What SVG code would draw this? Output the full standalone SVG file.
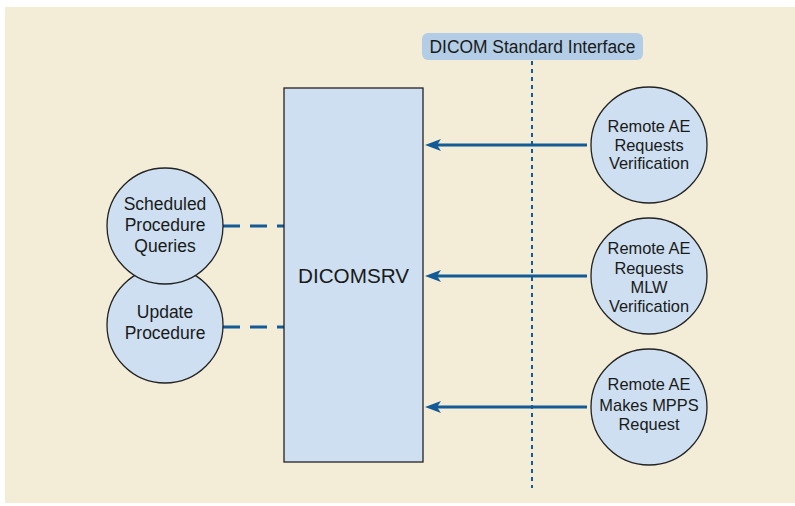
<svg xmlns="http://www.w3.org/2000/svg" width="795" height="506" viewBox="0 0 795 506">
<style>
.node{fill:#cddff0;stroke:#222;stroke-width:1.3}
.t{font-family:"Liberation Sans",Arial,sans-serif;font-size:16.4px;fill:#1a1a1a;text-anchor:middle}
.l{font-size:17.5px}
.arrow{stroke:#135b96;stroke-width:3;fill:none}
.dash{stroke:#135b96;stroke-width:3;fill:none;stroke-dasharray:17 10}
</style>
<rect x="5" y="7" width="790" height="496" fill="#f3ecd6"/>
<g id="interface">
<rect x="422" y="33" width="221" height="27" rx="6" fill="#b3cde6"/>
<text class="t l" x="532.5" y="53" textLength="206" lengthAdjust="spacingAndGlyphs">DICOM Standard Interface</text>
<line x1="532" y1="61" x2="532" y2="488" stroke="#135b96" stroke-width="2" stroke-dasharray="4 4"/>
</g>
<g id="connectors">
<line class="dash" x1="223" y1="226" x2="284" y2="226"/>
<line class="dash" x1="223" y1="327" x2="284" y2="327"/>
<line class="arrow" x1="587" y1="145" x2="437" y2="145"/>
<path d="M425,145 L441,139 L437,145 L441,151 Z" fill="#135b96"/>
<line class="arrow" x1="587" y1="276" x2="437" y2="276"/>
<path d="M425,276 L441,270 L437,276 L441,282 Z" fill="#135b96"/>
<line class="arrow" x1="587" y1="407" x2="437" y2="407"/>
<path d="M425,407 L441,401 L437,407 L441,413 Z" fill="#135b96"/>
</g>
<g id="dicomsrv">
<rect class="node" x="284" y="88" width="139" height="374"/>
<text class="t" x="353.5" y="283" style="font-size:20.7px">DICOMSRV</text>
</g>
<g id="update">
<circle class="node" cx="165" cy="325" r="58"/>
<text class="t l" x="165" y="318">Update</text>
<text class="t l" x="165" y="339">Procedure</text>
</g>
<g id="scheduled">
<circle class="node" cx="165" cy="226" r="58"/>
<text class="t l" x="165" y="210">Scheduled</text>
<text class="t l" x="165" y="231">Procedure</text>
<text class="t l" x="165" y="252">Queries</text>
</g>
<g id="remote1">
<circle class="node" cx="649" cy="145" r="58"/>
<text class="t" x="649" y="132">Remote AE</text>
<text class="t" x="649" y="151">Requests</text>
<text class="t" x="649" y="169">Verification</text>
</g>
<g id="remote2">
<circle class="node" cx="649" cy="276" r="58"/>
<text class="t" x="649" y="254">Remote AE</text>
<text class="t" x="649" y="274">Requests</text>
<text class="t" x="649" y="293">MLW</text>
<text class="t" x="649" y="312">Verification</text>
</g>
<g id="remote3">
<circle class="node" cx="649" cy="407" r="58"/>
<text class="t" x="649" y="390">Remote AE</text>
<text class="t" x="649" y="411">Makes MPPS</text>
<text class="t" x="649" y="430">Request</text>
</g>
</svg>
